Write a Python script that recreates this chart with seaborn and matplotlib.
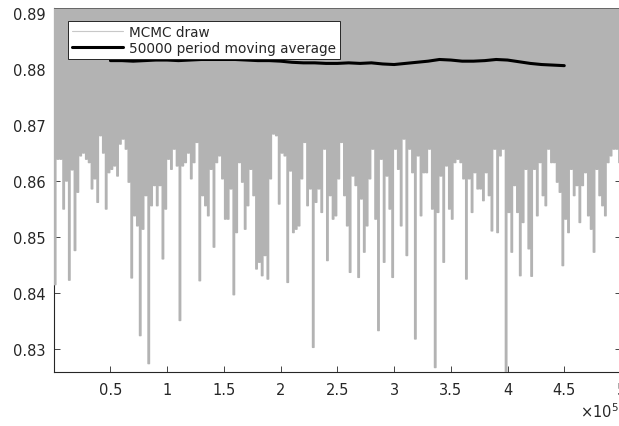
import numpy as np
import pandas as pd
import matplotlib
matplotlib.use("Agg")
import matplotlib.pyplot as plt
import seaborn as sns

# Lowest value of each block of 2500 draws (the chain tops out at band_top)
draw_low = [
    0.8415, 0.8639, 0.8639, 0.8550, 0.8600, 0.8423, 0.8620, 0.8476, 0.8580, 0.8645,
    0.8650, 0.8639, 0.8633, 0.8586, 0.8604, 0.8562, 0.8681, 0.8650, 0.8550, 0.8615,
    0.8621, 0.8627, 0.8609, 0.8666, 0.8675, 0.8657, 0.8598, 0.8427, 0.8538, 0.8520,
    0.8324, 0.8514, 0.8574, 0.8274, 0.8556, 0.8592, 0.8556, 0.8592, 0.8461, 0.8550,
    0.8639, 0.8621, 0.8657, 0.8627, 0.8351, 0.8627, 0.8633, 0.8650, 0.8604, 0.8633,
    0.8669, 0.8422, 0.8574, 0.8556, 0.8538, 0.8621, 0.8482, 0.8633, 0.8645, 0.8604,
    0.8532, 0.8532, 0.8586, 0.8397, 0.8508, 0.8633, 0.8598, 0.8514, 0.8556, 0.8621,
    0.8574, 0.8443, 0.8455, 0.8431, 0.8467, 0.8425, 0.8604, 0.8684, 0.8681, 0.8559,
    0.8650, 0.8645, 0.8419, 0.8618, 0.8508, 0.8514, 0.8520, 0.8604, 0.8669, 0.8556,
    0.8586, 0.8303, 0.8562, 0.8586, 0.8544, 0.8657, 0.8458, 0.8574, 0.8532, 0.8538,
    0.8604, 0.8669, 0.8574, 0.8520, 0.8437, 0.8609, 0.8592, 0.8428, 0.8568, 0.8473,
    0.8520, 0.8604, 0.8657, 0.8532, 0.8333, 0.8639, 0.8455, 0.8609, 0.8550, 0.8428,
    0.8657, 0.8621, 0.8520, 0.8675, 0.8467, 0.8657, 0.8615, 0.8318, 0.8645, 0.8538,
    0.8615, 0.8615, 0.8657, 0.8550, 0.8267, 0.8544, 0.8609, 0.8455, 0.8627, 0.8550,
    0.8532, 0.8633, 0.8639, 0.8633, 0.8604, 0.8425, 0.8604, 0.8544, 0.8615, 0.8586,
    0.8586, 0.8565, 0.8615, 0.8574, 0.8511, 0.8657, 0.8508, 0.8645, 0.8657, 0.8259,
    0.8544, 0.8473, 0.8592, 0.8544, 0.8431, 0.8526, 0.8621, 0.8479, 0.8430, 0.8621,
    0.8538, 0.8633, 0.8574, 0.8556, 0.8657, 0.8633, 0.8633, 0.8598, 0.8580, 0.8449,
    0.8532, 0.8508, 0.8621, 0.8574, 0.8592, 0.8526, 0.8592, 0.8615, 0.8538, 0.8514,
    0.8473, 0.8621, 0.8574, 0.8556, 0.8538, 0.8633, 0.8645, 0.8657, 0.8657, 0.8633,
]
band_top = 0.8909
draw_step = 1250

# 50000-period moving average of the chain
ma_iter = [
    50000, 60000, 70000, 80000, 90000, 100000, 110000, 120000, 130000, 140000,
    150000, 160000, 170000, 180000, 190000, 200000, 210000, 220000, 230000, 240000,
    250000, 260000, 270000, 280000, 290000, 300000, 310000, 320000, 330000, 340000,
    350000, 360000, 370000, 380000, 390000, 400000, 410000, 420000, 430000, 440000,
    450000,
]
ma_value = [
    0.8815, 0.8815, 0.8814, 0.8815, 0.8816, 0.8816, 0.8815, 0.8816, 0.8817, 0.8817,
    0.8817, 0.8817, 0.8816, 0.8815, 0.8815, 0.8814, 0.8812, 0.8811, 0.8811, 0.8810,
    0.8810, 0.8811, 0.8810, 0.8811, 0.8809, 0.8808, 0.8810, 0.8812, 0.8814, 0.8817,
    0.8816, 0.8814, 0.8814, 0.8815, 0.8817, 0.8816, 0.8813, 0.8810, 0.8808, 0.8807,
    0.8806,
]

ytick_values = [0.83, 0.84, 0.85, 0.86, 0.87, 0.88, 0.89]
ytick_labels = ["0.83", "0.84", "0.85", "0.86", "0.87", "0.88", "0.89"]
xtick_values = [50000, 100000, 150000, 200000, 250000, 300000, 350000, 400000, 450000, 500000]
xtick_labels = ["0.5", "1", "1.5", "2", "2.5", "3", "3.5", "4", "4.5", "5"]

sns.set_style("white")
plt.rcParams["font.family"] = ["DejaVu Sans"]
plt.rcParams["mathtext.fontset"] = "dejavusans"

axis_color = "#262626"

# Chain trace: alternate between the band top and each block's low
trace = np.empty(2 * len(draw_low) + 1)
trace[0::2] = band_top
trace[1::2] = draw_low
draws = pd.DataFrame({"iteration": np.arange(trace.size) * draw_step, "value": trace})
moving = pd.DataFrame({"iteration": ma_iter, "value": ma_value})

fig = plt.figure(figsize=(6.19, 4.27), dpi=100)
ax = fig.add_axes([0.0868, 0.1265, 0.9164, 0.8525])

sns.lineplot(data=draws, x="iteration", y="value", ax=ax, color="#b3b3b3",
             linewidth=1.05, sort=False, estimator=None, drawstyle="steps-mid",
             snap=False, label="MCMC draw", zorder=3)
sns.lineplot(data=moving, x="iteration", y="value", ax=ax, color="black",
             linewidth=2.2, sort=False, estimator=None,
             label="50000 period moving average", zorder=4)

ax.set_xlim(0, 500000)
ax.set_ylim(0.8259, 0.8909)
ax.set_xticks(xtick_values)
ax.set_xticklabels(xtick_labels)
ax.set_yticks(ytick_values)
ax.set_yticklabels(ytick_labels)
ax.set_xlabel("")
ax.set_ylabel("")
ax.set_axisbelow(True)

ax.tick_params(axis="both", direction="in", length=4, width=0.6, color=axis_color,
               labelcolor=axis_color, labelsize=10.5,
               top=True, right=True, bottom=True, left=True)
ax.tick_params(axis="x", pad=7.5)
ax.tick_params(axis="y", pad=6)
for side in ["left", "bottom", "top", "right"]:
    ax.spines[side].set_visible(True)
    ax.spines[side].set_color(axis_color)
    ax.spines[side].set_linewidth(0.8)
# the top edge of the box shows faintly over the trace
ax.spines["top"].set_zorder(3.5)
ax.spines["top"].set_color("#5a5a5a")
ax.spines["top"].set_linewidth(0.6)
ax.spines["top"].set_linestyle((0, (1, 1)))

ax.text(0.928, -0.123, r"$\times10^{5}$", transform=ax.transAxes, ha="left",
        va="baseline", fontsize=10.5, color=axis_color)

leg = ax.legend(loc="upper left", bbox_to_anchor=(0.0252, 0.965), borderaxespad=0,
                fontsize=9.8, frameon=True, fancybox=False, framealpha=1,
                edgecolor=axis_color, handlelength=3.75, handletextpad=0.4,
                borderpad=0.3, labelspacing=0.15)
leg.get_frame().set_linewidth(0.7)
leg.get_lines()[0].set_linewidth(0.8)
leg.get_lines()[0].set_color("#c8c8c8")
leg.get_lines()[0].set_drawstyle("default")
leg.set_zorder(6)

fig.savefig("out.png", dpi=100)
